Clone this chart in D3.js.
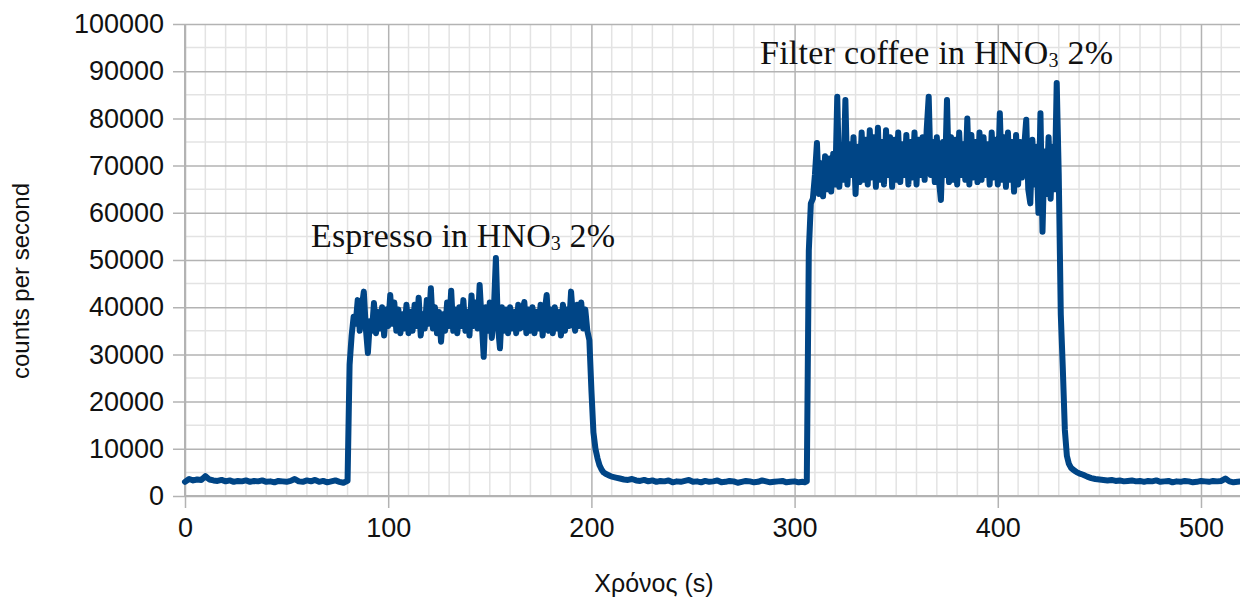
<!DOCTYPE html>
<html>
<head>
<meta charset="utf-8">
<script src="https://cdn.jsdelivr.net/npm/d3@7"></script>
<style>
  body { margin: 0; background: #fff; }
  svg { display: block; }
  .tick text { font-family: "Liberation Sans", Arial, sans-serif; }
</style>
</head>
<body>
<svg id="chart"></svg>
<script>
// counts per second
// baseline before espresso, t = 0..78 s, step 2
const baseA = [3000, 3600, 3300, 3500, 3400, 4200, 3500, 3300, 3200, 3400,
  3100, 3300, 3000, 3200, 3100, 3300, 3000, 3200, 3100, 3300,
  3000, 3100, 2900, 3200, 3100, 3000, 3200, 3600, 3100, 3000,
  3300, 3100, 3400, 3000, 3200, 2900, 3100, 3300, 3000, 2800];

// espresso, t = 80..210 s, step 1
const espresso = [3200, 27800,
  34000, 38000, 36500, 41500, 35000, 40000, 43300, 35500, 30300, 37000,
  35000, 40900, 34500, 39000, 35500, 40000, 34000, 39500, 36000, 42600,
  36500, 41000, 35000, 39500, 34500, 38500, 35500, 40500, 34500, 39000,
  35000, 40500, 36000, 42000, 34000, 38500, 35500, 41500, 36500, 44000,
  35500, 40000, 34500, 39000, 32700, 38500, 35000, 41000, 36000, 43500,
  35000, 39500, 34500, 40000, 36000, 41500, 35000, 39000, 34000, 42500,
  36000, 41000, 35500, 44700, 37000, 29500, 40000, 35000, 41000, 33500,
  39500, 50400, 36000, 31300, 40000, 35000, 39500, 34500, 40000, 35500,
  39000, 34500, 40500, 35500, 39000, 41100, 34500, 39500, 35000, 40000,
  34500, 39000, 35500, 40500, 34000, 39000, 42600, 35000, 39500, 34500,
  40000, 35500, 39000, 34000, 40500, 35000, 39500, 36000, 43300, 37500,
  35000, 40500, 36000, 41000, 35500, 39500, 35000,
  33000, 22500, 13500, 10000, 8000, 6500, 5600, 5000, 4700, 4500, 4300, 4100];

// baseline between the two, t = 212..304 s, step 2
const baseB = [3900, 3700, 3500, 3400, 3600, 3300, 3200, 3400, 3100, 3300,
  3000, 3200, 3100, 3300, 2900, 3100, 3000, 3200, 3400, 3000,
  3100, 2900, 3200, 3000, 3100, 3300, 2900, 3000, 3200, 3100,
  2800, 3000, 3200, 3100, 2900, 3000, 3300, 3100, 2900, 3000,
  3100, 3200, 2900, 3000, 3100, 2900, 3000];

// filter coffee, t = 305..440 s, step 1
const filterCoffee = [2900, 3100, 52000, 62000,
  63000, 68000, 74800, 64000, 70500, 63500, 72000, 65000, 71500, 64500,
  72500, 66000, 84600, 65500, 73000, 67000, 83900, 66000, 74500, 68000,
  76000, 64000, 74000, 66500, 77000, 67000, 75500, 66000, 77500, 67500,
  76000, 65500, 78000, 67000, 75000, 66000, 77500, 68000, 76000, 65500,
  75500, 67000, 77000, 66500, 74500, 68000, 76500, 66000, 75000, 67500,
  77000, 66000, 75500, 68000, 76000, 67000, 77500, 84600, 68000, 75000,
  66500, 76000, 67000, 62700, 75000, 68000, 83900, 66500, 76000, 67000,
  75500, 66000, 77000, 68000, 74500, 67000, 80000, 66000, 76500, 67500,
  75000, 66500, 77000, 67000, 76000, 68000, 74500, 66000, 77000, 67500,
  75500, 66000, 81100, 67000, 76000, 65500, 77000, 67000, 75000, 64500,
  76500, 66000, 75000, 67500, 74000, 79700, 65000, 62000, 75500, 66000,
  74000, 60000, 81100, 56000, 73000, 64000, 76000, 63000, 74000, 65000,
  87500, 68000,
  38500, 27000, 14000, 8500, 6800, 6000, 5600, 5300, 5000, 4800];

// tail, t = 442..520 s, step 2
const baseC = [4500, 4100, 3800, 3600, 3500, 3400, 3300, 3400, 3200, 3300,
  3100, 3200, 3300, 3100, 3200, 3000, 3200, 3100, 3300, 3000,
  3100, 3200, 2900, 3100, 3000, 3200, 3100, 2900, 3000, 3200,
  3100, 3000, 3200, 3100, 3200, 3700, 3100, 2900, 3000, 3100];

const xTicks = [0, 100, 200, 300, 400, 500];
const yTicks = [0, 10000, 20000, 30000, 40000, 50000, 60000, 70000, 80000, 90000, 100000];

// segments -> (t, v) points
const segments = [
  { t0: 0, dt: 2, values: baseA },
  { t0: 80, dt: 1, values: espresso },
  { t0: 212, dt: 2, values: baseB },
  { t0: 305, dt: 1, values: filterCoffee },
  { t0: 442, dt: 2, values: baseC }
];
const data = [];
segments.forEach(s => s.values.forEach((v, i) => data.push({ t: s.t0 + i * s.dt, v: v })));

const W = 1240, H = 603;
const plotLeft = 185, plotTop = 24, plotBottom = 496;

const svg = d3.select('#chart').attr('width', W).attr('height', H);

const x = d3.scaleLinear().domain([0, 519.2]).range([plotLeft, W]);
const y = d3.scaleLinear().domain([0, 100000]).range([plotBottom, plotTop]);

// minor grid
const xMinor = d3.range(0, 520, 10).filter(d => d % 100 !== 0);
const yMinor = d3.range(5000, 100000, 10000);

svg.append('g')
  .selectAll('line').data(xMinor).enter().append('line')
  .attr('x1', d => x(d)).attr('x2', d => x(d))
  .attr('y1', plotTop).attr('y2', plotBottom)
  .attr('stroke', '#e3e3e3').attr('stroke-width', 1.5);

svg.append('g')
  .selectAll('line').data(yMinor).enter().append('line')
  .attr('x1', plotLeft).attr('x2', W)
  .attr('y1', d => y(d)).attr('y2', d => y(d))
  .attr('stroke', '#e3e3e3').attr('stroke-width', 1.5);

// major grid + axes
const yAxis = svg.append('g')
  .attr('transform', `translate(${plotLeft},0)`)
  .call(d3.axisLeft(y).tickValues(yTicks).tickSize(12).tickPadding(9).tickFormat(d3.format('d')));
yAxis.selectAll('.tick line').attr('stroke', '#b3b3b3').attr('stroke-width', 1.5)
  .attr('x2', W - plotLeft).attr('x1', -12);
yAxis.select('.domain').remove();

const xAxis = svg.append('g')
  .attr('transform', `translate(0,${plotBottom})`)
  .call(d3.axisBottom(x).tickValues(xTicks).tickSize(12).tickPadding(10).tickFormat(d3.format('d')));
xAxis.selectAll('.tick line').attr('stroke', '#b3b3b3').attr('stroke-width', 1.5)
  .attr('y1', plotTop - plotBottom).attr('y2', 12);
xAxis.select('.domain').remove();

svg.selectAll('.tick text')
  .attr('font-size', 27)
  .attr('fill', '#111');

// axis lines
svg.append('line')
  .attr('x1', plotLeft).attr('x2', plotLeft).attr('y1', plotTop).attr('y2', plotBottom)
  .attr('stroke', '#b3b3b3').attr('stroke-width', 2);
svg.append('line')
  .attr('x1', plotLeft).attr('x2', W).attr('y1', plotBottom).attr('y2', plotBottom)
  .attr('stroke', '#b3b3b3').attr('stroke-width', 2);

// the series
const line = d3.line().x(d => x(d.t)).y(d => y(d.v));
svg.append('path')
  .datum(data)
  .attr('d', line)
  .attr('fill', 'none')
  .attr('stroke', '#004586')
  .attr('stroke-width', 6)
  .attr('stroke-linejoin', 'round')
  .attr('stroke-linecap', 'round');

// axis titles
svg.append('text')
  .attr('transform', `translate(29,281) rotate(-90)`)
  .attr('text-anchor', 'middle')
  .attr('font-family', '"Liberation Sans", Arial, sans-serif')
  .attr('font-size', 24)
  .attr('fill', '#111')
  .text('counts per second');

svg.append('text')
  .attr('x', 654).attr('y', 592)
  .attr('text-anchor', 'middle')
  .attr('font-family', '"Liberation Sans", Arial, sans-serif')
  .attr('font-size', 25)
  .attr('fill', '#111')
  .text('Χρόνος (s)');

// annotations with subscript
function note(px, py, before, len) {
  const t = svg.append('text')
    .attr('x', px).attr('y', py)
    .attr('font-family', '"Liberation Serif", "Times New Roman", serif')
    .attr('font-size', 34)
    .attr('fill', '#111')
    .attr('textLength', len)
    .attr('lengthAdjust', 'spacing');
  t.append('tspan').text(before + 'HNO');
  t.append('tspan').attr('font-size', 20).attr('dy', 3).text('3');
  t.append('tspan').attr('dy', -3).text(' 2%');
}
note(311, 247, 'Espresso in ', 304);
note(760, 64, 'Filter coffee in ', 353);
</script>
</body>
</html>
